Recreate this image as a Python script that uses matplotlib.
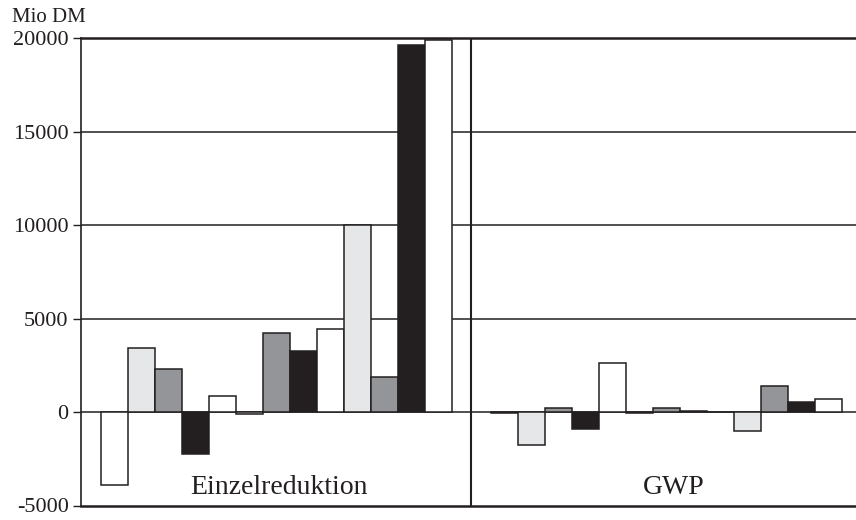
import matplotlib
matplotlib.use("Agg")
import matplotlib.pyplot as plt
import numpy as np

plt.rcParams['font.family'] = ['Liberation Serif', 'DejaVu Serif']

panels = ["Einzelreduktion", "GWP"]
einzel_values = [-3900, 3450, 2300, -2250, 850, -120, 4250, 3250, 4450, 10000, 1900, 19650, 19900]
gwp_values = [-30, -1750, 200, -900, 2650, -30, 200, 60, 0, -1000, 1400, 530, 700]
y_ticks = [-5000, 0, 5000, 10000, 15000, 20000]
y_unit = "Mio DM"

ink = "#231f20"
fills = ["#ffffff", "#e6e7e8", "#939598", ink]

fig = plt.figure(figsize=(8.56, 5.2), dpi=100)
ax = fig.add_axes([81 / 856, 1 - 505.5 / 520, 1 - 81 / 856, (505.5 - 38.3) / 520])

panel_width = 14.44
bar_offset = 0.74
for p, vals in enumerate([einzel_values, gwp_values]):
    x0 = p * panel_width + bar_offset
    xs = x0 + 0.5 + np.arange(len(vals))
    colors = [fills[i % 4] for i in range(len(vals))]
    ax.bar(xs, vals, width=1.0, color=colors, edgecolor=ink, linewidth=1.1, zorder=3)
    ax.text(p * panel_width + panel_width / 2 + (0.1 if p == 0 else 0.3), -4400, panels[p],
            ha="center", va="baseline", fontsize=20, color=ink, zorder=4)

ax.set_xlim(0, (856 - 81) / 27.0)
ax.set_ylim(-5000, 20000)

for y in [0, 5000, 10000, 15000]:
    ax.axhline(y, color=ink, linewidth=1.1, zorder=2)
ax.axvline(panel_width, color=ink, linewidth=1.5, zorder=4)

ax.set_yticks(y_ticks)
ax.set_yticklabels([str(t) for t in y_ticks], fontsize=16, color=ink)
ax.tick_params(axis="y", direction="out", length=6, width=1.0, color=ink, pad=3)
ax.set_xticks([])

for side in ["left", "top", "bottom"]:
    ax.spines[side].set_color(ink)
ax.spines["left"].set_linewidth(1.2)
ax.spines["top"].set_linewidth(1.8)
ax.spines["bottom"].set_linewidth(1.8)
ax.spines["right"].set_visible(False)

fig.text(12 / 856, 1 - 18 / 520, y_unit, ha="left", va="center", fontsize=15, color=ink)

fig.savefig("out.png", dpi=100)
